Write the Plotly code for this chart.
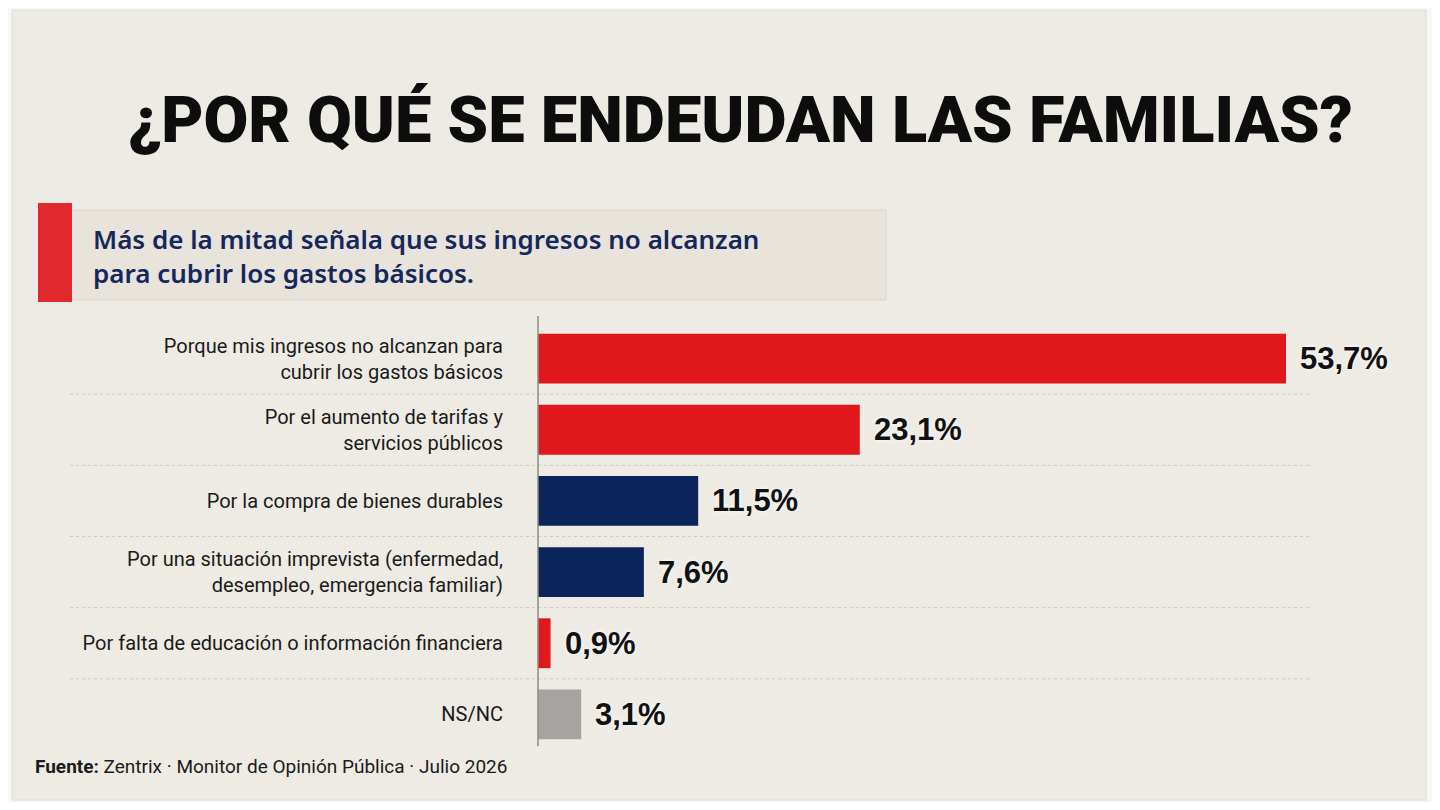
import plotly.graph_objects as go

categories = [
    "Porque mis ingresos no alcanzan para<br>cubrir los gastos básicos",
    "Por el aumento de tarifas y<br>servicios públicos",
    "Por la compra de bienes durables",
    "Por una situación imprevista (enfermedad,<br>desempleo, emergencia familiar)",
    "Por falta de educación o información financiera",
    "NS/NC",
]
values = [53.7, 23.1, 11.5, 7.6, 0.9, 3.1]
bar_colors = ["#e0181d", "#e0181d", "#0b2459", "#0b2459", "#e0181d", "#a6a4a1"]

title_text = "¿POR QUÉ SE ENDEUDAN LAS FAMILIAS?"
subtitle_text = "Más de la mitad señala que sus ingresos no alcanzan<br>para cubrir los gastos básicos."
source_text = "<b>Fuente:</b> Zentrix · Monitor de Opinión Pública · Julio 2026"

OFF = 8  # page body margin
W, H = 1440 - 2 * OFF, 810 - 2 * OFF
# plot area in reference-image pixels
PL, PR, PT, PB = 538, 1420, 323, 750
L, R, T, B = PL - OFF, (W + OFF) - PR, PT - OFF, (H + OFF) - PB
PW, PH = PR - PL, PB - PT


def px(x):
    return (x - PL) / PW


def py(y):
    return (PB - y) / PH


labels = [f"{v:.1f}".replace(".", ",") + "%" for v in values]

fig = go.Figure()
fig.add_trace(go.Bar(
    y=categories, x=values, orientation="h",
    marker=dict(color=bar_colors, line=dict(width=0)),
    width=0.7, hoverinfo="skip",
))

shapes = [
    dict(type="rect", xref="paper", yref="paper", x0=px(12), x1=px(1426), y0=py(10), y1=py(800),
         fillcolor="#eeebe5", line=dict(color="#e0dcd5", width=1), layer="below"),
    dict(type="rect", xref="paper", yref="paper", x0=px(44), x1=px(886), y0=py(300), y1=py(210),
         fillcolor="#e8e3db", line=dict(color="#d9d3ca", width=1), layer="below"),
    dict(type="rect", xref="paper", yref="paper", x0=px(38), x1=px(72), y0=py(302), y1=py(203),
         fillcolor="#e0282d", line=dict(width=0), layer="below"),
    dict(type="line", xref="paper", yref="paper", x0=0, x1=0, y0=py(746), y1=py(316),
         line=dict(color="#8c8a86", width=1.5)),
]
for i in range(len(categories) - 1):
    shapes.append(dict(type="line", xref="paper", yref="y", x0=px(70), x1=px(1312),
                       y0=i + 0.5, y1=i + 0.5,
                       line=dict(color="#cdc8c0", width=1, dash="dot"), layer="below"))

annotations = [
    dict(text=title_text, xref="paper", yref="paper", x=px(740), y=py(120),
         xanchor="center", yanchor="middle", showarrow=False,
         font=dict(family="Roboto", size=65, color="#0d0d0d", weight=900)),
    dict(text=source_text, xref="paper", yref="paper", x=px(33), y=py(766),
         xanchor="left", yanchor="middle", showarrow=False,
         font=dict(family="Roboto", size=19, color="#1a1a1a")),
    dict(text=subtitle_text, xref="paper", yref="paper", x=px(91), y=py(256),
         xanchor="left", yanchor="middle", align="left", showarrow=False,
         font=dict(family="Noto Sans", size=26, color="#16275c", weight=600)),
]
for c, v, lab in zip(categories, values, labels):
    annotations.append(dict(text=lab, x=v, y=c, xref="x", yref="y", xanchor="left",
                            yanchor="middle", xshift=12, showarrow=False,
                            font=dict(family="Liberation Sans", size=31, color="#111111",
                                      weight="bold", shadow="0px 0px 4px #ffffff")))

fig.update_layout(
    width=W, height=H,
    margin=dict(l=L, r=R, t=T, b=B),
    paper_bgcolor="#f8f7f4", plot_bgcolor="rgba(0,0,0,0)",
    showlegend=False, shapes=shapes, annotations=annotations,
)
fig.update_xaxes(range=[0, 53.7 * PW / (1286 - PL)], visible=False, fixedrange=True)
fig.update_yaxes(autorange="reversed", showgrid=False, zeroline=False, showline=False,
                 ticks="", ticklabelstandoff=34,
                 tickfont=dict(family="Roboto", size=20, color="#1a1a1a"),
                 fixedrange=True)

fig.write_html("out.html", config={"displayModeBar": False})
